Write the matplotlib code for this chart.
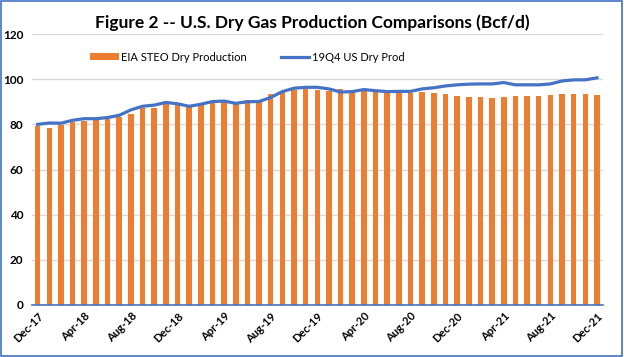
import numpy as np
import pandas as pd
import matplotlib
matplotlib.use("Agg")
from matplotlib import pyplot as plt

plt.rcParams['font.family'] = ['Lato', 'DejaVu Sans']

# monthly Dec-17 .. Dec-21
months = pd.date_range("2017-12-01", "2021-12-01", freq="MS")
steo = [79.2, 78.6, 79.9, 81.0, 81.5, 82.1, 82.2, 83.1, 84.6, 87.2,
        87.3, 89.3, 88.7, 87.8, 88.7, 89.7, 89.7, 88.9, 91.0, 91.0,
        93.3, 94.3, 95.4, 95.8, 95.2, 94.8, 95.6, 94.2, 94.9, 94.5,
        94.0, 94.0, 94.0, 94.3, 93.9, 93.4, 92.5, 92.1, 92.1, 91.6,
        92.1, 92.5, 92.5, 92.5, 93.0, 93.4, 93.4, 93.4, 93.0]
q4_dry = [80.0, 80.6, 80.5, 81.8, 82.5, 82.5, 83.0, 84.0, 86.4, 88.0,
          88.5, 89.7, 89.1, 88.0, 88.9, 90.1, 90.3, 89.3, 90.0, 90.1,
          91.9, 94.5, 96.0, 96.4, 96.4, 95.7, 94.3, 94.5, 95.4, 94.9,
          94.5, 94.6, 94.6, 95.7, 96.2, 97.0, 97.5, 97.8, 97.9, 97.9,
          98.5, 97.5, 97.5, 97.5, 97.9, 99.2, 99.7, 99.7, 100.6]
labels = [m.strftime("%b-%y") for m in months]

orange = "#ED7D31"
blue = "#4472C4"

fig = plt.figure(figsize=(6.24, 3.57), dpi=100)
ax = fig.add_axes([0.051, 0.1457, 0.915, 0.759])

x = np.arange(len(months))
bars = ax.bar(x, steo, width=0.48, color=orange, label="EIA STEO Dry Production", zorder=2)
line, = ax.plot(x, q4_dry, color=blue, lw=2.3, label="19Q4 US Dry Prod", zorder=3)

ax.set_xlim(-0.5, len(months) - 0.5)
ax.set_ylim(0, 120)
ax.set_yticks(range(0, 121, 20))
ax.yaxis.grid(True, color="#D9D9D9", lw=1, zorder=0)
ax.tick_params(axis='y', length=0, labelsize=8.5, pad=6)
for t in ax.get_yticklabels():
    t.set_fontweight('bold')

ax.set_xticks(x[::4])
ax.set_xticklabels(labels[::4], rotation=45, ha='right', rotation_mode='anchor',
                   fontsize=8, fontweight='bold')
ax.tick_params(axis='x', length=0, pad=4)

for s in ['top', 'right', 'left']:
    ax.spines[s].set_visible(False)
ax.spines['bottom'].set_color(blue)
ax.spines['bottom'].set_linewidth(1.2)

ax.legend(handles=[bars, line], loc='center left', bbox_to_anchor=(0.085, 0.915),
          ncol=2, frameon=False, fontsize=8, handlelength=2.6, handleheight=0.6,
          columnspacing=3.0, handletextpad=0.2)

fig.text(0.5, 0.937, "Figure 2 -- U.S. Dry Gas Production Comparisons (Bcf/d)",
         ha='center', va='center', fontsize=12.5, fontweight='bold')

# outer frame
fig.patches.append(plt.Rectangle((0.002, 0.004), 0.995, 0.992, transform=fig.transFigure,
                                 fill=False, edgecolor=blue, lw=1.2))

fig.savefig("out.png", dpi=100)
